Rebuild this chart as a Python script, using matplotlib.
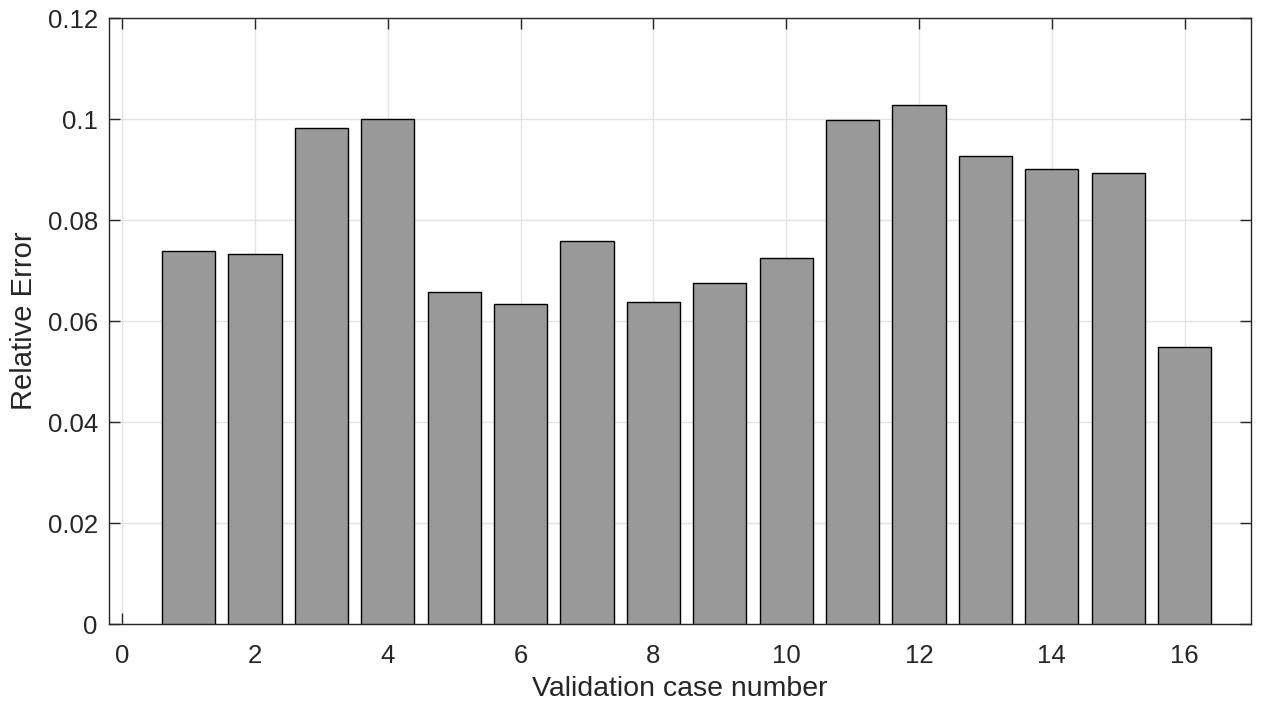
import matplotlib
matplotlib.use("Agg")
import matplotlib.pyplot as plt
import numpy as np

cases = list(range(1, 17))
rel_error = [0.0739, 0.0733, 0.0983, 0.1001, 0.0658, 0.0633, 0.0759, 0.0638,
             0.0675, 0.0725, 0.0999, 0.1028, 0.0927, 0.0902, 0.0894, 0.0549]
xticks = [0, 2, 4, 6, 8, 10, 12, 14, 16]
yticks = [0, 0.02, 0.04, 0.06, 0.08, 0.1, 0.12]
yticklabels = ["0", "0.02", "0.04", "0.06", "0.08", "0.1", "0.12"]

plt.rcParams['font.family'] = ['Liberation Sans', 'DejaVu Sans']
txt = '#262626'

fig = plt.figure(figsize=(12.64, 7.04), dpi=100)
ax = fig.add_axes([0.0862, 0.1132, 0.9035, 0.8612])
ax.bar(cases, rel_error, width=0.8, color='#999999', edgecolor='black', linewidth=1.0, zorder=3)
ax.set_xlim(-0.2, 17.0)
ax.set_ylim(0, 0.12)
ax.set_xticks(xticks)
ax.set_yticks(yticks)
ax.set_yticklabels(yticklabels)
ax.grid(True, color='#e3e3e3', linewidth=1.0, zorder=0)
ax.set_axisbelow(True)
ax.tick_params(direction='in', top=True, right=True, labelsize=18.5, colors=txt,
               length=8, width=1.0)
ax.tick_params(axis='y', pad=8)
ax.tick_params(axis='x', pad=14)
for s in ax.spines.values():
    s.set_color('#262626')
    s.set_linewidth(1.0)
ax.set_xlabel('Validation case number', fontsize=20.5, color=txt, labelpad=6)
ax.set_ylabel('Relative Error', fontsize=21, color=txt, labelpad=7)
fig.savefig('out.png', dpi=100)
